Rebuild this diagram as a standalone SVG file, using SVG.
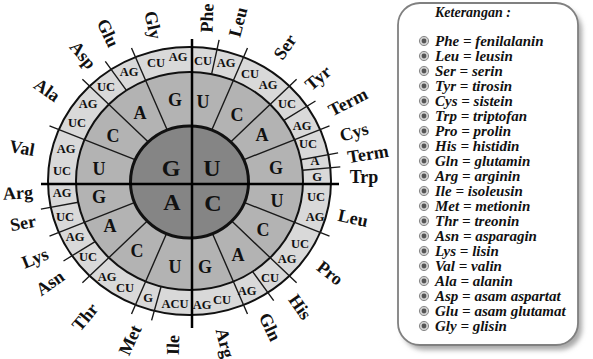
<svg xmlns="http://www.w3.org/2000/svg" xmlns:xlink="http://www.w3.org/1999/xlink" width="593" height="359" viewBox="0 0 593 359">
<style>
text{font-family:"Liberation Serif","Times New Roman",serif;font-weight:bold;fill:#111;text-anchor:middle;dominant-baseline:central}
.in{font-size:24px}
.mid{font-size:18px}
.out{font-size:12.5px}
.aa{font-size:18px}
.lg{font-style:italic;font-size:15px;text-anchor:start;dominant-baseline:auto}
.seg{stroke:#1a1a1a;stroke-width:1.4;fill:none}
.ring{stroke:#111;stroke-width:2}
</style>
<defs>
<filter id="sh" x="-10%" y="-10%" width="130%" height="130%"><feGaussianBlur stdDeviation="2.5"/></filter>
<g id="bul"><circle r="4.6" fill="#cfcfcf" stroke="#8a8a8a" stroke-width="1"/><circle r="2.4" fill="#555"/></g>
</defs>
<rect width="593" height="359" fill="#fff"/>
<g id="wheel">
<ellipse class="ring" cx="189.5" cy="181" rx="141.5" ry="134" fill="#d9d9d9"/>
<ellipse class="ring" cx="189.5" cy="181" rx="113.5" ry="109" fill="#b3b3b3"/>
</g>
<g id="connectors">
<path class="seg" d="M212.1,129.3L247.5,48M231.2,141.4L296.6,79.2M244,159.6L329.5,125.9M244,202.4L329.5,236.1M231.2,220.6L296.6,282.8M212.1,232.7L247.5,314M166.9,232.7L131.5,314M147.8,220.6L82.4,282.8M135,202.4L49.5,236.1M135,159.6L49.5,125.9M147.8,141.4L82.4,79.2M166.9,129.3L131.5,48"/>
<path class="seg" d="M211.6,74.1L219.1,39.8M283.9,120.4L315.5,101M300.8,159.7L338.1,152.9M302.5,170.3L340.3,166.9M252.6,271.6L273.7,300.7M161.1,286.5L151.6,320.4M95.1,241.6L63.5,261M78.2,202.3L40.9,209.1M126.4,90.4L105.3,61.3"/>
</g>
<g id="core">
<ellipse cx="189.5" cy="182" rx="59" ry="56" fill="#858585" stroke="#111" stroke-width="3"/>
</g>
<g id="axes">
<path d="M192,39V328M41,184H339" stroke="#000" stroke-width="2.5"/>
</g>
<g id="inner-letters">
<text class="in" x="171" y="168">G</text>
<text class="in" x="212" y="168">U</text>
<text class="in" x="172" y="202">A</text>
<text class="in" x="213" y="203">C</text>
</g>
<g id="second-letters">
<text class="mid" x="203" y="102">U</text>
<text class="mid" x="237" y="115">C</text>
<text class="mid" x="262" y="135">A</text>
<text class="mid" x="276" y="168">G</text>
<text class="mid" x="277" y="201">U</text>
<text class="mid" x="263" y="230">C</text>
<text class="mid" x="238" y="255">A</text>
<text class="mid" x="205" y="267">G</text>
<text class="mid" x="175" y="267">U</text>
<text class="mid" x="137" y="251">C</text>
<text class="mid" x="110" y="226">A</text>
<text class="mid" x="99" y="197">G</text>
<text class="mid" x="99" y="169">U</text>
<text class="mid" x="113" y="136">C</text>
<text class="mid" x="140" y="113">A</text>
<text class="mid" x="175" y="100">G</text>
</g>
<g id="third-letters">
<text class="out" x="203" y="61">CU</text>
<text class="out" x="226" y="63">AG</text>
<text class="out" x="250" y="74">CU</text>
<text class="out" x="268" y="85">AG</text>
<text class="out" x="287" y="104">UC</text>
<text class="out" x="302" y="126">AG</text>
<text class="out" x="308" y="144">UC</text>
<text class="out" x="315" y="161">A</text>
<text class="out" x="317" y="177">G</text>
<text class="out" x="316" y="197">UC</text>
<text class="out" x="315" y="217">AG</text>
<text class="out" x="300" y="244">UC</text>
<text class="out" x="287" y="259">AG</text>
<text class="out" x="270" y="278">CU</text>
<text class="out" x="247" y="291">AG</text>
<text class="out" x="222" y="300">CU</text>
<text class="out" x="202" y="305">AG</text>
<text class="out" x="175" y="304">ACU</text>
<text class="out" x="148" y="298">G</text>
<text class="out" x="125" y="288">CU</text>
<text class="out" x="107" y="277">AG</text>
<text class="out" x="88" y="257">UC</text>
<text class="out" x="75" y="237">AG</text>
<text class="out" x="65" y="217">UC</text>
<text class="out" x="62" y="193">AG</text>
<text class="out" x="62" y="171">UC</text>
<text class="out" x="66" y="149">AG</text>
<text class="out" x="77" y="123">UC</text>
<text class="out" x="88" y="104">AG</text>
<text class="out" x="106" y="87">UC</text>
<text class="out" x="129" y="72">AG</text>
<text class="out" x="156" y="63">CU</text>
<text class="out" x="178" y="57">AG</text>
</g>
<g id="amino-labels">
<text class="aa" transform="translate(207,18) rotate(-88)">Phe</text>
<text class="aa" transform="translate(238,22) rotate(-75)">Leu</text>
<text class="aa" transform="translate(285,47) rotate(-55)">Ser</text>
<text class="aa" transform="translate(318,78) rotate(-40)">Tyr</text>
<text class="aa" transform="translate(348,102) rotate(-27)">Term</text>
<text class="aa" transform="translate(354,132) rotate(-16)">Cys</text>
<text class="aa" transform="translate(368,154) rotate(-9)">Term</text>
<text class="aa" transform="translate(364,177)">Trp</text>
<text class="aa" transform="translate(353,218) rotate(12)">Leu</text>
<text class="aa" transform="translate(330,273) rotate(38)">Pro</text>
<text class="aa" transform="translate(300,307) rotate(55)">His</text>
<text class="aa" transform="translate(270,327) rotate(65)">Gln</text>
<text class="aa" transform="translate(225,343) rotate(76)">Arg</text>
<text class="aa" transform="translate(173,345) rotate(-88)">Ile</text>
<text class="aa" transform="translate(130,340) rotate(-65)">Met</text>
<text class="aa" transform="translate(85,317) rotate(-50)">Thr</text>
<text class="aa" transform="translate(50,283) rotate(-35)">Asn</text>
<text class="aa" transform="translate(35,258) rotate(-22)">Lys</text>
<text class="aa" transform="translate(23,223) rotate(-10)">Ser</text>
<text class="aa" transform="translate(18,193) rotate(-3)">Arg</text>
<text class="aa" transform="translate(22,148) rotate(10)">Val</text>
<text class="aa" transform="translate(47,90) rotate(35)">Ala</text>
<text class="aa" transform="translate(83,55) rotate(50)">Asp</text>
<text class="aa" transform="translate(108,33) rotate(65)">Glu</text>
<text class="aa" transform="translate(153,25) rotate(78)">Gly</text>
</g>
<g id="legend">
<rect x="402" y="8" width="180" height="342" rx="22" fill="#a8a8a8" filter="url(#sh)"/>
<rect x="398" y="3" width="180" height="342" rx="22" fill="#fff" stroke="#808080" stroke-width="1.8"/>
<text class="lg" x="435" y="17" style="font-size:14px">Keterangan :</text>
<use xlink:href="#bul" x="424" y="41"/><text class="lg" x="435" y="46">Phe = fenilalanin</text>
<use xlink:href="#bul" x="424" y="56"/><text class="lg" x="435" y="61">Leu = leusin</text>
<use xlink:href="#bul" x="424" y="71"/><text class="lg" x="435" y="76">Ser = serin</text>
<use xlink:href="#bul" x="424" y="86"/><text class="lg" x="435" y="91">Tyr = tirosin</text>
<use xlink:href="#bul" x="424" y="101"/><text class="lg" x="435" y="106">Cys = sistein</text>
<use xlink:href="#bul" x="424" y="116"/><text class="lg" x="435" y="121">Trp = triptofan</text>
<use xlink:href="#bul" x="424" y="131"/><text class="lg" x="435" y="136">Pro = prolin</text>
<use xlink:href="#bul" x="424" y="146"/><text class="lg" x="435" y="151">His = histidin</text>
<use xlink:href="#bul" x="424" y="161"/><text class="lg" x="435" y="166">Gln = glutamin</text>
<use xlink:href="#bul" x="424" y="176"/><text class="lg" x="435" y="181">Arg = arginin</text>
<use xlink:href="#bul" x="424" y="191"/><text class="lg" x="435" y="196">Ile = isoleusin</text>
<use xlink:href="#bul" x="424" y="206"/><text class="lg" x="435" y="211">Met = metionin</text>
<use xlink:href="#bul" x="424" y="221"/><text class="lg" x="435" y="226">Thr = treonin</text>
<use xlink:href="#bul" x="424" y="236"/><text class="lg" x="435" y="241">Asn = asparagin</text>
<use xlink:href="#bul" x="424" y="251"/><text class="lg" x="435" y="256">Lys = lisin</text>
<use xlink:href="#bul" x="424" y="266"/><text class="lg" x="435" y="271">Val = valin</text>
<use xlink:href="#bul" x="424" y="281"/><text class="lg" x="435" y="286">Ala = alanin</text>
<use xlink:href="#bul" x="424" y="296"/><text class="lg" x="435" y="301">Asp = asam aspartat</text>
<use xlink:href="#bul" x="424" y="311"/><text class="lg" x="435" y="316">Glu = asam glutamat</text>
<use xlink:href="#bul" x="424" y="326"/><text class="lg" x="435" y="331">Gly = glisin</text>
</g>
</svg>
